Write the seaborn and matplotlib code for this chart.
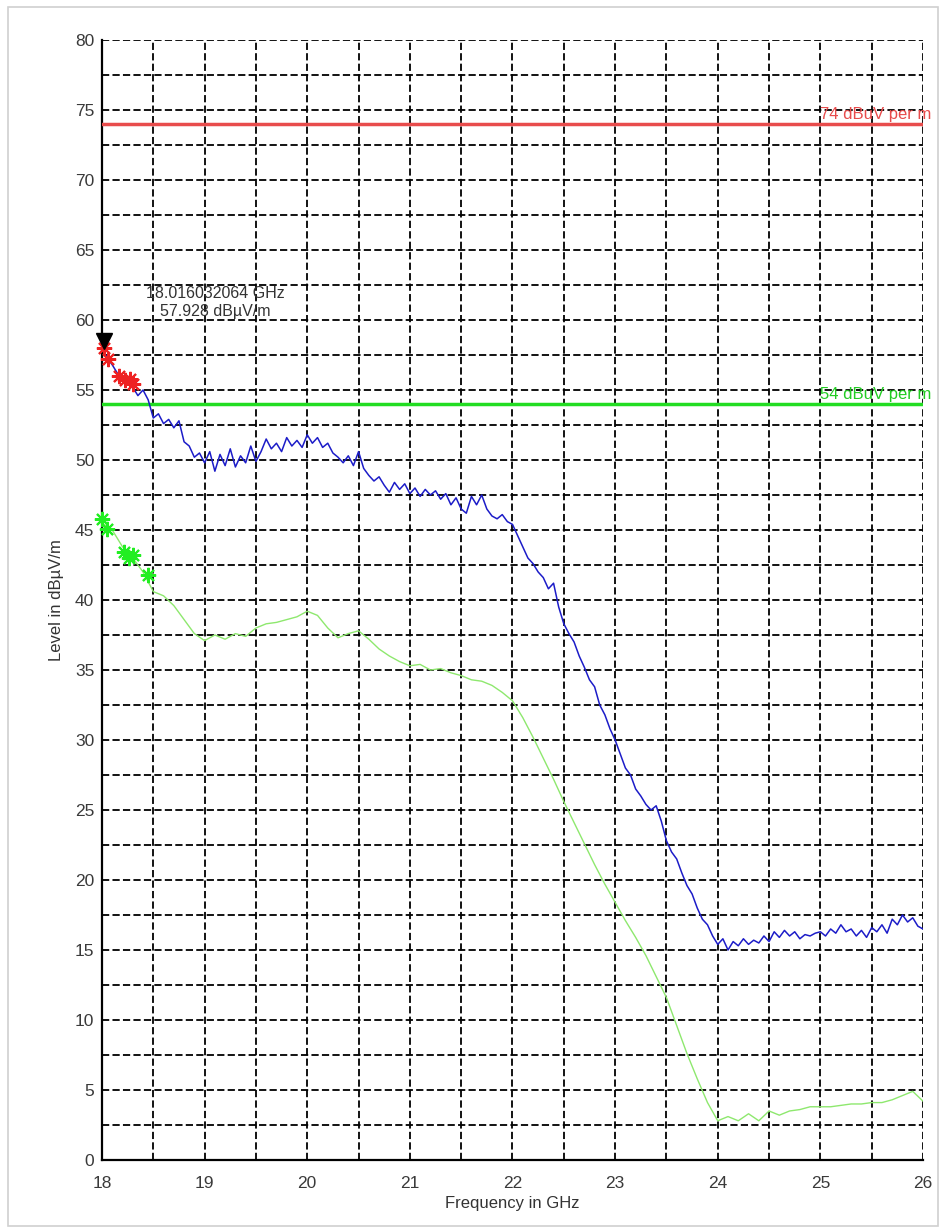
import numpy as np
import pandas as pd
import matplotlib
matplotlib.use("Agg")
import matplotlib.pyplot as plt
import seaborn as sns
from matplotlib.patches import Rectangle
from matplotlib.ticker import MultipleLocator

# ---------------- DATA ----------------
# peak trace (blue), 18..26 GHz in 0.05 GHz steps
peak_level = [
    58.0, 57.3, 56.8, 56.2, 55.8, 55.6, 55.2, 54.6, 55.0, 54.3,
    53.0, 53.3, 52.6, 52.9, 52.3, 52.8, 51.3, 51.0, 50.2, 50.5,
    49.8, 50.6, 49.2, 50.4, 49.6, 50.8, 49.5, 50.3, 49.8, 51.0,
    49.9, 50.6, 51.5, 50.8, 51.2, 50.6, 51.6, 51.0, 51.4, 50.9,
    51.8, 51.2, 51.6, 50.9, 51.2, 50.5, 50.2, 49.8, 50.3, 49.6,
    50.6, 49.4, 48.9, 48.5, 48.8, 48.2, 47.7, 48.4, 47.9, 48.3,
    47.6, 48.0, 47.4, 47.9, 47.5, 47.8, 47.2, 47.6, 46.8, 47.3,
    46.5, 46.2, 47.4, 46.8, 47.5, 46.5, 46.0, 45.8, 46.1, 45.6,
    45.4, 44.6, 43.8, 43.0, 42.6, 42.0, 41.6, 40.8, 41.2, 39.5,
    38.3, 37.6, 37.0, 36.0, 35.2, 34.3, 33.8, 32.5, 31.8, 30.8,
    30.0, 29.0, 28.0, 27.5, 26.5, 26.0, 25.4, 25.0, 25.3, 24.2,
    22.8, 22.0, 21.5, 20.5, 19.6, 19.0, 18.0, 17.2, 16.8, 16.0,
    15.4, 15.8, 15.0, 15.6, 15.3, 15.8, 15.4, 15.7, 15.5, 16.0,
    15.6, 16.3, 15.9, 16.4, 16.0, 16.3, 15.8, 16.1, 16.0, 16.2,
    16.3, 16.0, 16.5, 16.2, 16.8, 16.3, 16.5, 16.0, 16.4, 15.9,
    16.6, 16.3, 16.8, 16.2, 17.2, 16.8, 17.5, 17.0, 17.3, 16.7,
    16.5,
]

# average trace (green), 18..26 GHz in 0.1 GHz steps
avg_level = [
    45.5, 45.0, 43.8, 43.0, 42.0, 40.6, 40.3, 39.6, 38.6, 37.6,
    37.1, 37.5, 37.2, 37.6, 37.4, 38.0, 38.3, 38.4, 38.6, 38.8,
    39.2, 38.9, 38.0, 37.3, 37.6, 37.8, 37.2, 36.5, 36.0, 35.6,
    35.3, 35.4, 35.0, 35.1, 34.8, 34.6, 34.3, 34.2, 33.9, 33.4,
    32.8, 31.6, 30.2, 28.7, 27.2, 25.6, 24.1, 22.6, 21.1, 19.7,
    18.4, 17.1, 15.9, 14.6, 13.1, 11.6, 9.6, 7.6, 5.8, 4.1,
    2.8, 3.1, 2.8, 3.3, 2.8, 3.5, 3.2, 3.5, 3.6, 3.8,
    3.8, 3.8, 3.9, 4.0, 4.0, 4.1, 4.1, 4.3, 4.6, 4.9,
    4.2,
]

# final measurement points
peak_pts_f = [18.02, 18.06, 18.17, 18.22, 18.27, 18.30]
peak_pts_l = [58.0, 57.2, 56.0, 55.7, 55.8, 55.4]
avg_pts_f = [18.00, 18.05, 18.21, 18.26, 18.30, 18.45]
avg_pts_l = [45.8, 45.1, 43.4, 43.0, 43.2, 41.8]

marker_f = 18.016032064
marker_l = 57.928

limit_peak = 74
limit_avg = 54

peak_df = pd.DataFrame({"freq": np.linspace(18, 26, len(peak_level)), "level": peak_level})
avg_df = pd.DataFrame({"freq": np.linspace(18, 26, len(avg_level)), "level": avg_level})

# ---------------- PLOT ----------------
sns.set_style("white")
plt.rcParams["font.family"] = ["Liberation Sans", "DejaVu Sans"]

fig = plt.figure(figsize=(9.46, 12.28), dpi=100)
ax = fig.add_axes([0.1078, 0.0554, 0.8679, 0.912])

fig.add_artist(Rectangle((0.008, 0.002), 0.984, 0.992, transform=fig.transFigure,
                         fill=False, edgecolor="#d0d0d0", linewidth=1.2))

ax.set_xlim(18, 26)
ax.set_ylim(0, 80)
ax.xaxis.set_major_locator(MultipleLocator(1))
ax.xaxis.set_minor_locator(MultipleLocator(0.5))
ax.yaxis.set_major_locator(MultipleLocator(5))
ax.yaxis.set_minor_locator(MultipleLocator(2.5))

ax.grid(True, which="both", color="black", linestyle=(0, (4, 1.8)), linewidth=1.3)
ax.set_axisbelow(True)

for side in ["top", "right"]:
    ax.spines[side].set_visible(False)
for side in ["left", "bottom"]:
    ax.spines[side].set_color("black")
    ax.spines[side].set_linewidth(1.6)

ax.tick_params(which="both", direction="inout", length=9, width=1.6, color="black",
               labelsize=12.5, labelcolor="#3a3a3a", pad=1)
ax.tick_params(axis="x", pad=7)

# limit lines
ax.axhline(limit_peak, color="#e84c4c", linewidth=2.5, zorder=3)
ax.axhline(limit_avg, color="#22dd22", linewidth=2.5, zorder=3)
ax.text(26.08, limit_peak + 0.15, "74 dBuV per m", color="#e84c4c", fontsize=12,
        ha="right", va="bottom", zorder=4)
ax.text(26.08, limit_avg + 0.15, "54 dBuV per m", color="#22cc22", fontsize=12,
        ha="right", va="bottom", zorder=4)

# traces
sns.lineplot(data=avg_df, x="freq", y="level", color="#8ee86e", linewidth=1.0,
             ax=ax, zorder=4)
sns.lineplot(data=peak_df, x="freq", y="level", color="#1c1cc8", linewidth=1.1,
             ax=ax, zorder=5)

ax.plot(peak_pts_f, peak_pts_l, linestyle="none", marker=(8, 2, 0), markersize=11,
        markeredgewidth=1.5, color="#ee2222", zorder=6, clip_on=False)
ax.plot(avg_pts_f, avg_pts_l, linestyle="none", marker=(8, 2, 0), markersize=11,
        markeredgewidth=1.5, color="#22ee22", zorder=6, clip_on=False)
ax.plot([marker_f], [marker_l + 0.6], linestyle="none", marker="v", markersize=12,
        color="black", zorder=7, clip_on=False)

ax.text(19.1, 60.1, f"{marker_f:.9f} GHz\n{marker_l:.3f} dB\u00b5V/m", fontsize=11.5,
        ha="center", va="bottom", color="#333333", linespacing=1.2, zorder=7)

ax.set_xlabel("Frequency in GHz", fontsize=12, color="#333333", labelpad=4)
ax.set_ylabel("Level in dB\u00b5V/m", fontsize=12, color="#333333", labelpad=8)

fig.savefig("out.png", dpi=100)
plt.close(fig)
